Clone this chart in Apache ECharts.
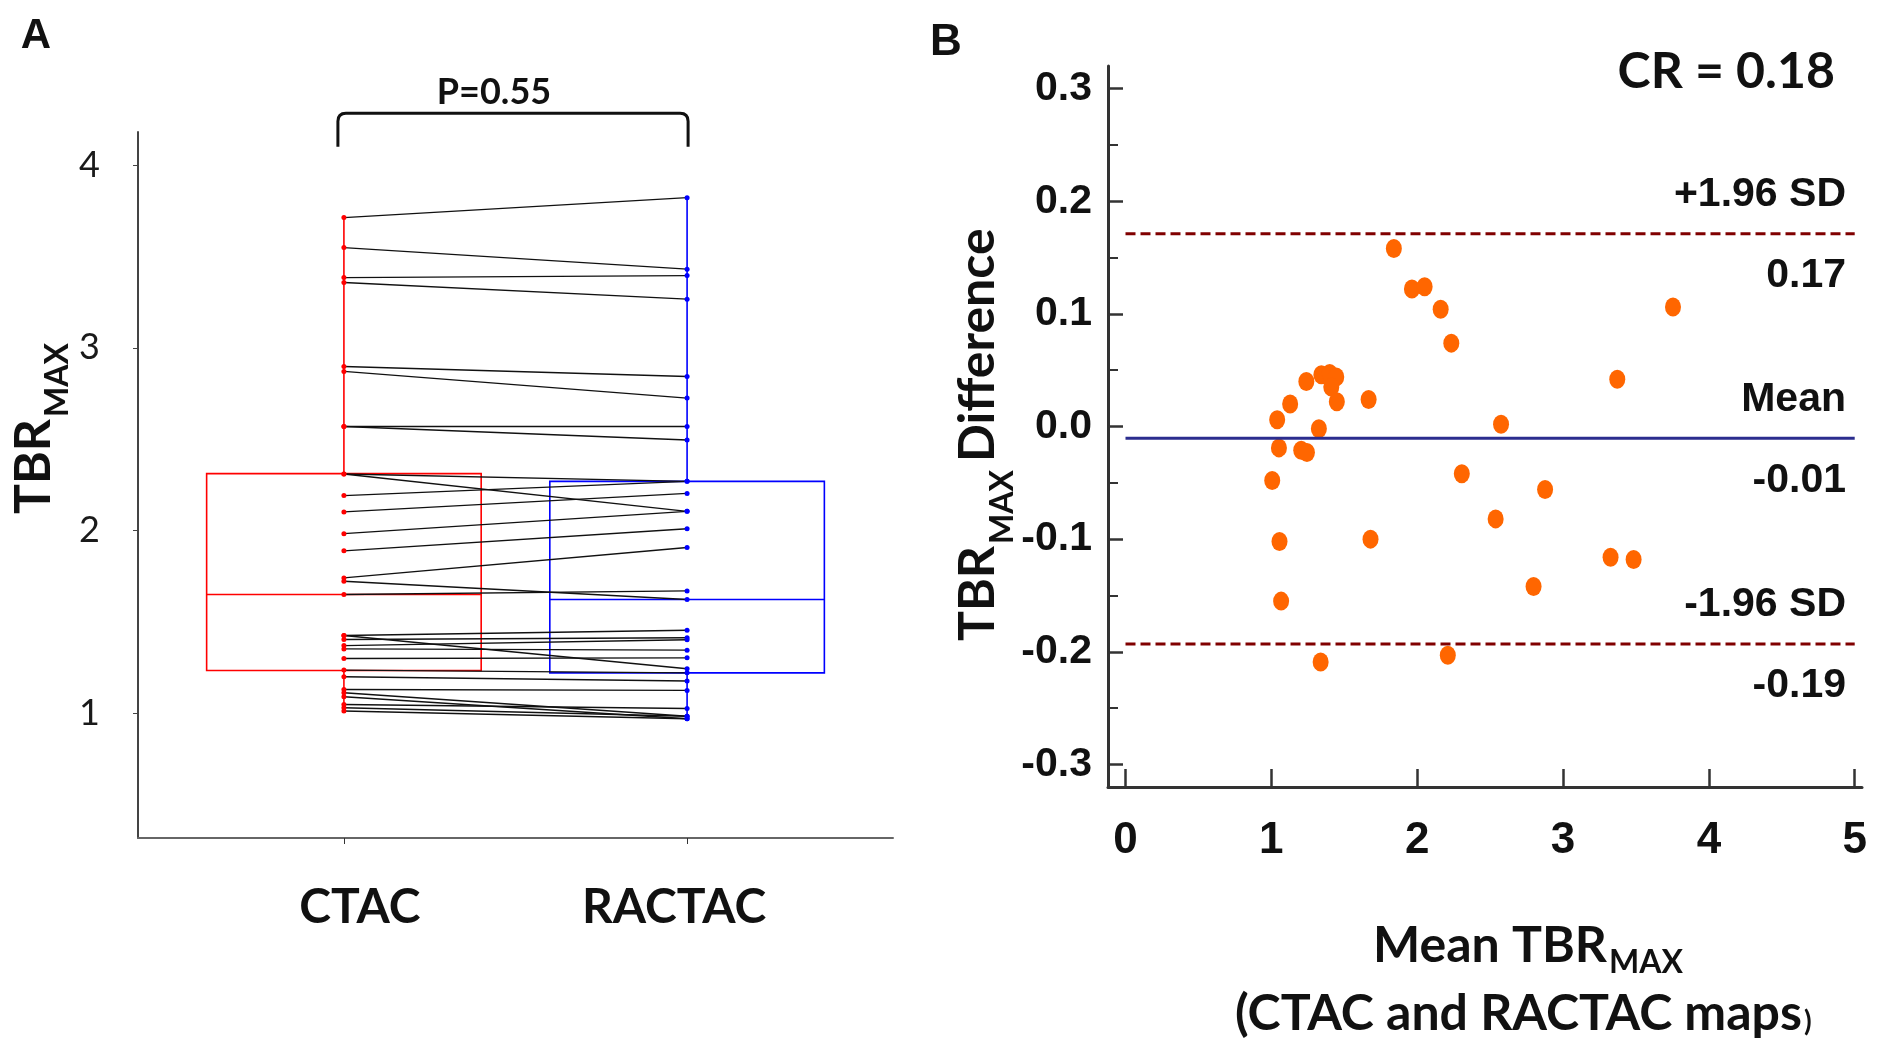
<!DOCTYPE html>
<html>
<head>
<meta charset="utf-8">
<title>TBRmax CTAC vs RACTAC</title>
<script src="https://cdn.jsdelivr.net/npm/echarts@6/dist/echarts.min.js"></script>
<style>
html, body { margin: 0; padding: 0; background: #fff; }
#chart { width: 1883px; height: 1048px; }
</style>
</head>
<body>
<div id="chart"></div>
<script>
// ---- panel A: paired TBRmax values (CTAC -> RACTAC)
const groupNames = ['CTAC', 'RACTAC'];
const ctacVals = [3.712, 3.548, 3.384, 3.357, 2.898, 2.871, 2.570, 2.570, 2.310, 2.310,
  2.192, 2.103, 1.984, 1.890, 1.742, 1.724, 1.651, 1.427, 1.427, 1.405, 1.372, 1.354,
  1.301, 1.238, 1.202, 1.132, 1.114, 1.092, 1.050, 1.032, 1.014];
const ractacVals = [3.821, 3.430, 3.395, 3.266, 2.843, 2.725, 2.570, 2.496, 2.270, 2.106,
  2.270, 2.204, 2.106, 2.011, 1.908, 1.624, 1.671, 1.456, 1.245, 1.415, 1.404, 1.347,
  1.305, 1.223, 1.178, 1.127, 0.986, 0.972, 1.028, 0.986, 0.972];
// box stats: [min, q1, median, q3, max]
const ctacBox = [1.014, 1.236, 1.651, 2.312, 3.712];
const ractacBox = [0.972, 1.223, 1.624, 2.270, 3.821];
const tbrTicks = [1, 2, 3, 4];
const pLabel = 'P=0.55';

// ---- panel B: Bland-Altman
const meanVals = [1.840, 1.964, 2.051, 2.161, 2.234, 3.754, 3.372, 1.240, 1.343, 1.400,
  1.445, 1.411, 1.449, 1.129, 1.040, 1.326, 1.667, 2.575, 1.052, 1.205, 1.244, 1.006,
  2.306, 2.877, 2.538, 1.056, 1.680, 3.326, 3.484, 2.798, 1.067, 1.338, 2.210];
const diffVals = [0.158, 0.122, 0.124, 0.104, 0.074, 0.106, 0.042, 0.040, 0.046, 0.047,
  0.044, 0.035, 0.022, 0.020, 0.006, -0.002, 0.024, 0.002, -0.019, -0.021, -0.023, -0.048,
  -0.042, -0.056, -0.082, -0.102, -0.100, -0.116, -0.118, -0.142, -0.155, -0.209, -0.203];
const limitNames = ['+1.96 SD', 'Mean', '-1.96 SD'];
const limitVals = [0.171, -0.0104, -0.193];
const diffTicks = [-0.3, -0.2, -0.1, 0, 0.1, 0.2, 0.3];
const diffMinorTicks = [-0.25, -0.15, -0.05, 0.05, 0.15, 0.25];
const meanTicks = [0, 1, 2, 3, 4, 5];
const crLabel = 'CR = 0.18';

const CAL = 'Lato';
const ARIAL = 'Liberation Sans';
const BOX_HALF = 0.4;
const boxColors = ['#ff0000', '#0000ff'];

const chart = echarts.init(document.getElementById('chart'));

const boxData = [[1].concat(ctacBox), [2].concat(ractacBox)];
const pairData = ctacVals.map((v, i) => [v, ractacVals[i]]);

const option = {
  backgroundColor: '#fff',
  animation: false,
  grid: [
    { left: 138, top: 132, width: 755, height: 706, containLabel: false, outerBoundsMode: 'none' },
    { left: 1108, top: 66, width: 754, height: 721, containLabel: false, outerBoundsMode: 'none' }
  ],
  xAxis: [
    {
      type: 'value', gridIndex: 0, min: 0.4, max: 2.6, position: 'bottom',
      axisLine: { show: true, onZero: false, lineStyle: { color: '#666', width: 2 } },
      axisTick: { show: true, customValues: [1, 2], length: 6, lineStyle: { color: '#333', width: 1 } },
      axisLabel: {
        customValues: [1, 2], margin: 46,
        formatter: function (v) { return v === 1 ? '{c|' + groupNames[0] + '}' : '{r|' + groupNames[1] + '}'; },
        rich: {
          c: { fontFamily: CAL, fontWeight: 'bold', fontSize: 48, color: '#111', lineHeight: 48, padding: [0, 0, 0, 32] },
          r: { fontFamily: CAL, fontWeight: 'bold', fontSize: 48, color: '#111', lineHeight: 48, padding: [0, 26, 0, 0] }
        }
      },
      splitLine: { show: false }
    },
    {
      type: 'value', gridIndex: 1, min: -0.12, max: 5.05, position: 'bottom',
      axisLine: { show: true, onZero: false, lineStyle: { color: '#333', width: 3 } },
      axisTick: { show: true, inside: true, customValues: meanTicks, length: 18, lineStyle: { color: '#333', width: 2.5 } },
      axisLabel: {
        customValues: meanTicks, margin: 32,
        fontFamily: ARIAL, fontWeight: 'bold', fontSize: 44, color: '#111', lineHeight: 44
      },
      splitLine: { show: false }
    }
  ],
  yAxis: [
    {
      type: 'value', gridIndex: 0, min: 0.32, max: 4.18, position: 'left',
      axisLine: { show: true, onZero: false, lineStyle: { color: '#444', width: 2 } },
      axisTick: { show: true, customValues: tbrTicks, length: 5, lineStyle: { color: '#444', width: 1 } },
      axisLabel: {
        customValues: tbrTicks, margin: 38,
        fontFamily: CAL, fontSize: 36, color: '#1a1a1a'
      },
      splitLine: { show: false }
    },
    {
      type: 'value', gridIndex: 1, min: -0.32, max: 0.32, position: 'left',
      axisLine: { show: true, onZero: false, lineStyle: { color: '#333', width: 3 } },
      axisTick: { show: true, inside: true, customValues: diffTicks, length: 15, lineStyle: { color: '#333', width: 2.5 } },
      axisLabel: {
        customValues: diffTicks, margin: 16,
        fontFamily: ARIAL, fontWeight: 'bold', fontSize: 41, color: '#111',
        formatter: function (v) { return v.toFixed(1); }
      },
      splitLine: { show: false }
    },
    {
      // minor ticks only, on the same left edge
      type: 'value', gridIndex: 1, min: -0.32, max: 0.32, position: 'left', offset: 0,
      axisLine: { show: false, onZero: false },
      axisTick: { show: true, inside: true, customValues: diffMinorTicks, length: 10, lineStyle: { color: '#333', width: 2 } },
      axisLabel: { show: false },
      splitLine: { show: false }
    }
  ],
  series: [
    {
      type: 'custom', name: 'box', xAxisIndex: 0, yAxisIndex: 0,
      encode: { x: 0, y: [1, 2, 3, 4, 5] },
      data: boxData,
      renderItem: function (params, api) {
        const x = api.value(0);
        const lo = api.value(1), q1 = api.value(2), med = api.value(3), q3 = api.value(4), hi = api.value(5);
        const tl = api.coord([x - BOX_HALF, q3]);
        const br = api.coord([x + BOX_HALF, q1]);
        const mL = api.coord([x - BOX_HALF, med]);
        const mR = api.coord([x + BOX_HALF, med]);
        const cLo = api.coord([x, lo]), cHi = api.coord([x, hi]);
        const cQ1 = api.coord([x, q1]), cQ3 = api.coord([x, q3]);
        const color = boxColors[params.dataIndex];
        const st = { stroke: color, lineWidth: 1.6 };
        return {
          type: 'group',
          children: [
            { type: 'rect', shape: { x: tl[0], y: tl[1], width: br[0] - tl[0], height: br[1] - tl[1] },
              style: { stroke: color, fill: 'none', lineWidth: 1.6 } },
            { type: 'line', shape: { x1: mL[0], y1: mL[1], x2: mR[0], y2: mR[1] }, style: st },
            { type: 'line', shape: { x1: cQ3[0], y1: cQ3[1], x2: cHi[0], y2: cHi[1] }, style: st },
            { type: 'line', shape: { x1: cQ1[0], y1: cQ1[1], x2: cLo[0], y2: cLo[1] }, style: st }
          ]
        };
      }
    },
    {
      type: 'custom', name: 'pairs', xAxisIndex: 0, yAxisIndex: 0,
      data: pairData,
      renderItem: function (params, api) {
        const a = api.coord([1, api.value(0)]);
        const b = api.coord([2, api.value(1)]);
        return { type: 'line', shape: { x1: a[0], y1: a[1], x2: b[0], y2: b[1] },
          style: { stroke: '#111', lineWidth: 1.4 } };
      }
    },
    {
      type: 'scatter', name: groupNames[0], xAxisIndex: 0, yAxisIndex: 0,
      data: ctacVals.map(v => [1, v]), symbolSize: 5,
      itemStyle: { color: '#ff0000', opacity: 1 }
    },
    {
      type: 'scatter', name: groupNames[1], xAxisIndex: 0, yAxisIndex: 0,
      data: ractacVals.map(v => [2, v]), symbolSize: 5,
      itemStyle: { color: '#0000ff', opacity: 1 }
    },
    {
      // significance bracket between the two groups
      type: 'custom', name: 'bracket', xAxisIndex: 0, yAxisIndex: 0, clip: false,
      data: [[1, 2]],
      renderItem: function (params, api) {
        const l = api.coord([api.value(0), 4.1]);
        const r = api.coord([api.value(1), 4.1]);
        const top = api.coord([1, 4.283])[1];
        const rad = 8;
        const x1 = l[0] - 6, x2 = r[0] + 1;
        const path = 'M' + x1 + ' ' + l[1] + ' L' + x1 + ' ' + (top + rad) +
          ' Q' + x1 + ' ' + top + ' ' + (x1 + rad) + ' ' + top +
          ' L' + (x2 - rad) + ' ' + top +
          ' Q' + x2 + ' ' + top + ' ' + x2 + ' ' + (top + rad) +
          ' L' + x2 + ' ' + r[1];
        return {
          type: 'group',
          children: [
            { type: 'path', shape: { pathData: path }, style: { stroke: '#111', lineWidth: 3, fill: 'none' } },
            { type: 'text', style: { text: pLabel, x: (x1 + x2) / 2 - 19, y: top - 21,
              textAlign: 'center', textVerticalAlign: 'middle',
              font: 'bold 36px ' + CAL, fill: '#111' } }
          ]
        };
      }
    },
    {
      type: 'scatter', name: 'diff', xAxisIndex: 1, yAxisIndex: 1,
      data: meanVals.map((m, i) => [m, diffVals[i]]),
      symbol: 'circle', symbolSize: [16, 19],
      itemStyle: { color: '#ff6600', opacity: 1 }
    }
  ].concat(limitVals.map(function (v, i) {
    return {
      type: 'line', name: limitNames[i], xAxisIndex: 1, yAxisIndex: 1,
      data: [[meanTicks[0], v], [meanTicks[meanTicks.length - 1], v]],
      symbol: 'none',
      lineStyle: i === 1
        ? { color: '#2b2d8e', width: 3, type: 'solid' }
        : { color: '#800000', width: 3, type: [10, 5] },
      z: 3
    };
  }))
};

chart.setOption(option);

// texts: panel letters, axis titles, limit labels
const txt = function (text, x, y, font, align, extra) {
  return Object.assign({
    type: 'text', x: x, y: y,
    style: { text: text, font: font, fill: '#111', textAlign: align || 'center', textVerticalAlign: 'middle' }
  }, extra || {});
};
const rot = { rotation: Math.PI / 2 };

const graphics = [
  txt('A', 36, 36, 'bold 42px ' + ARIAL),
  txt('B', 946, 43, 'bold 44px ' + ARIAL),
  txt('TBR', 34, 419, 'bold 50px ' + CAL, 'right', rot),
  txt('MAX', 58, 417, 'bold 32px ' + CAL, 'left', rot),
  txt('TBR', 978, 546, 'bold 50px ' + CAL, 'right', rot),
  txt('MAX', 1003, 544, 'bold 32px ' + CAL, 'left', rot),
  txt('Difference', 978, 462, 'bold 50px ' + CAL, 'left', rot),
  txt('Mean TBR', 1607, 946, 'bold 50px ' + CAL, 'right'),
  txt('MAX', 1609, 963, 'bold 32px ' + CAL, 'left'),
  txt('(CTAC and RACTAC maps', 1802, 1014, 'bold 50px ' + CAL, 'right'),
  txt(')', 1804, 1022, 'bold 28px ' + CAL, 'left'),
  txt(crLabel, 1835, 72, 'bold 50px ' + CAL, 'right')
];
limitVals.forEach(function (v, i) {
  const p = chart.convertToPixel({ gridIndex: 1 }, [meanTicks[meanTicks.length - 1], v]);
  graphics.push(txt(limitNames[i], 1846, p[1] - 39, 'bold 41px ' + ARIAL, 'right'));
  graphics.push(txt(v.toFixed(2), 1846, p[1] + 42, 'bold 41px ' + ARIAL, 'right'));
});
chart.setOption({ graphic: graphics });
</script>
</body>
</html>
